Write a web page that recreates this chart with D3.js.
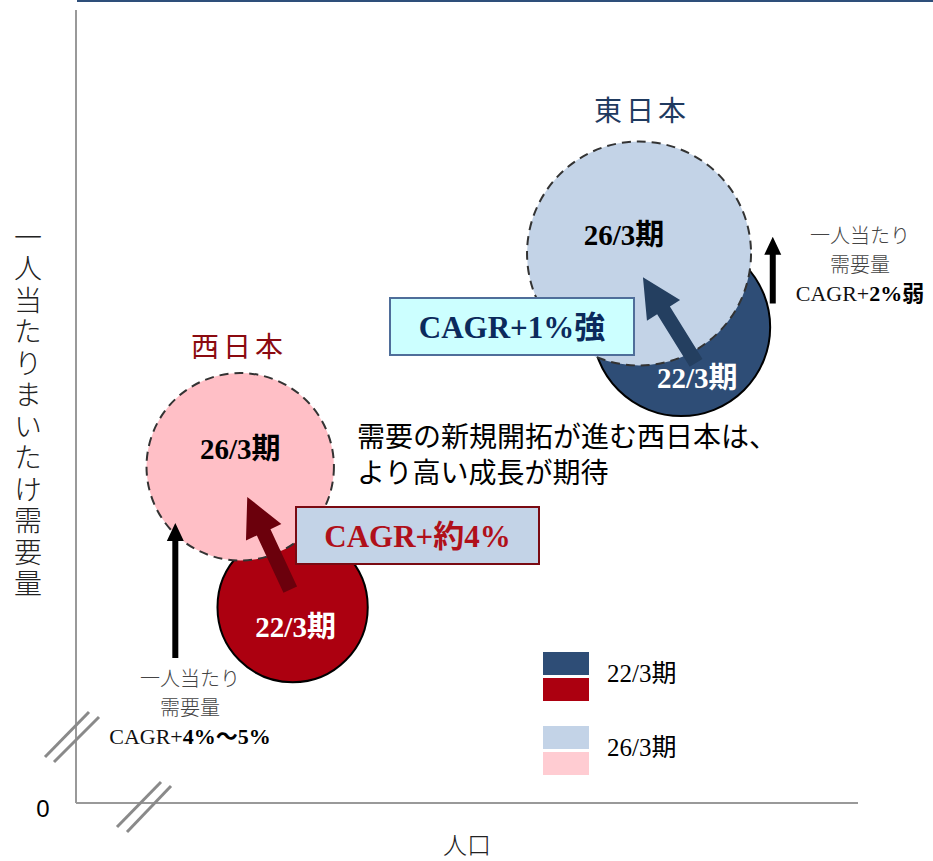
<!DOCTYPE html>
<html>
<head>
<meta charset="utf-8">
<script src="https://d3js.org/d3.v7.min.js"></script>
<style>
  body { margin: 0; background: #fff; }
  svg { display: block; }
</style>
</head>
<body>
<svg id="chart"></svg>
<script>
// --- data (x: 人口 index, y: 一人当たり需要量 index, size: 需要量 index) ---
var regions = ["西日本", "東日本"];
var periods = ["22/3期", "26/3期"];
var population = [[27.7, 21.0], [77.4, 72.0]];
var perCapita = [[24.7, 42.4], [60.0, 69.3]];
var volume = [[45, 70], [63, 100]];
var growthLabels = ["CAGR+約4%", "CAGR+1%強"];
// growth arrows (from 22/3 towards 26/3), in data units [x1, y1, x2, y2]
var growthArrows = [[27.4, 26.9, 21.9, 38.6], [79.3, 55.5, 72.5, 66.3]];
// per-capita arrows, in data units [x, yFrom, yTo]
var perCapitaArrows = [[12.7, 18.3, 35.3], [89.1, 63.0, 71.4]];
var perCapitaNotes = [
  ["一人当たり", "需要量", ["CAGR+", "4%〜5%"]],
  ["一人当たり", "需要量", ["CAGR+", "2%弱"]]
];

var W = 933, H = 861;
var jp = "'Noto Sans CJK JP', sans-serif";
var serif = "'Liberation Serif', 'Times New Roman', 'Noto Sans CJK JP', serif";

var svg = d3.select('#chart').attr('width', W).attr('height', H);

var x = d3.scaleLinear().domain([0, 100]).range([76, 858]);
var y = d3.scaleLinear().domain([0, 100]).range([803, 10]);
var r = d3.scaleSqrt().domain([0, 100]).range([0, 112]);

var darkFill = ["#AC0010", "#2E4D76"];
var lightFill = ["#FFBFC6", "#C3D3E7"];
var arrowFill = ["#6B000C", "#243F60"];
var regionColor = ["#8B0A10", "#1F3A5F"];

// top rule
svg.append('line').attr('x1', 77).attr('x2', W).attr('y1', 1).attr('y2', 1)
  .style('stroke', '#2E4F7A').style('stroke-width', 2);

// axes (plain lines, no ticks)
svg.append('line').attr('x1', x(0)).attr('x2', x(0)).attr('y1', y(100)).attr('y2', y(0))
  .style('stroke', '#999').style('stroke-width', 2);
svg.append('line').attr('x1', x(0)).attr('x2', x(100)).attr('y1', y(0)).attr('y2', y(0))
  .style('stroke', '#999').style('stroke-width', 2);

// axis break marks
var breaks = [[45, 757, 89, 712], [54, 762, 99, 717], [117, 827, 161, 782], [127, 832, 171, 786]];
svg.selectAll('line.brk').data(breaks).enter().append('line').attr('class', 'brk')
  .attr('x1', function (d) { return d[0]; }).attr('y1', function (d) { return d[1]; })
  .attr('x2', function (d) { return d[2]; }).attr('y2', function (d) { return d[3]; })
  .style('stroke', '#8a8a8a').style('stroke-width', 3);

svg.append('text').attr('x', 43).attr('y', 817).attr('text-anchor', 'middle')
  .style('font-family', "'Liberation Sans', Arial, sans-serif").style('font-size', '24px')
  .text('0');

// axis titles
svg.append('text').attr('x', 467).attr('y', 843).attr('text-anchor', 'middle')
  .attr('dominant-baseline', 'central')
  .style('font-family', jp).style('font-size', '24px').style('font-weight', 300).style('fill', '#222')
  .text('人口');

svg.append('text').attr('x', 28).attr('y', 223)
  .style('writing-mode', 'vertical-rl')
  .style('font-family', jp).style('font-size', '28px').style('font-weight', 300).style('fill', '#222')
  .style('letter-spacing', '3.5px')
  .text('一人当たりまいたけ需要量');

// bubbles: 22/3 first, 26/3 on top
var bubbles = [];
regions.forEach(function (reg, i) {
  periods.forEach(function (p, j) {
    bubbles.push({ region: i, period: j, x: population[i][j], y: perCapita[i][j], v: volume[i][j] });
  });
});
bubbles.sort(function (a, b) { return a.period - b.period; });

svg.selectAll('circle.bub').data(bubbles).enter().append('circle').attr('class', 'bub')
  .attr('cx', function (d) { return x(d.x); })
  .attr('cy', function (d) { return y(d.y); })
  .attr('r', function (d) { return r(d.v); })
  .style('fill', function (d) { return d.period ? lightFill[d.region] : darkFill[d.region]; })
  .style('stroke', function (d) { return d.period ? '#333' : '#000'; })
  .style('stroke-width', 2)
  .style('stroke-dasharray', function (d) { return d.period ? '9,6' : null; });

// arrow polygon
function arrowPath(x1, y1, x2, y2, sw, hw, hl) {
  var dx = x2 - x1, dy = y2 - y1, len = Math.sqrt(dx * dx + dy * dy);
  var ux = dx / len, uy = dy / len, nx = -uy, ny = ux;
  var bx = x2 - ux * hl, by = y2 - uy * hl;
  var pts = [
    [x1 + nx * sw / 2, y1 + ny * sw / 2],
    [bx + nx * sw / 2, by + ny * sw / 2],
    [bx + nx * hw / 2, by + ny * hw / 2],
    [x2, y2],
    [bx - nx * hw / 2, by - ny * hw / 2],
    [bx - nx * sw / 2, by - ny * sw / 2],
    [x1 - nx * sw / 2, y1 - ny * sw / 2]
  ];
  return 'M' + pts.join('L') + 'Z';
}

svg.selectAll('path.grow').data(growthArrows).enter().append('path').attr('class', 'grow')
  .attr('d', function (d) { return arrowPath(x(d[0]), y(d[1]), x(d[2]), y(d[3]), 15, 39, 39); })
  .style('fill', function (d, i) { return arrowFill[i]; });

svg.selectAll('path.pc').data(perCapitaArrows).enter().append('path').attr('class', 'pc')
  .attr('d', function (d) { return arrowPath(x(d[0]), y(d[1]), x(d[0]), y(d[2]), 6, 17, 18); })
  .style('fill', '#000');

// bubble labels
svg.selectAll('text.blab').data(bubbles).enter().append('text').attr('class', 'blab')
  .attr('x', function (d) { return x(d.x) + (d.period ? (d.region ? -15 : 0) : (d.region ? 16 : 3)); })
  .attr('y', function (d) { return y(d.y) + (d.period ? -8 : (d.region ? 61 : 30)); })
  .attr('text-anchor', 'middle')
  .style('font-family', serif).style('font-weight', 'bold').style('font-size', '29px')
  .style('fill', function (d) { return d.period ? '#000' : '#fff'; })
  .text(function (d) { return periods[d.period]; });

// region titles
var regionTitlePos = [[239, 357], [642, 121]];
svg.selectAll('text.reg').data(regions).enter().append('text').attr('class', 'reg')
  .attr('x', function (d, i) { return regionTitlePos[i][0]; })
  .attr('y', function (d, i) { return regionTitlePos[i][1]; })
  .attr('text-anchor', 'middle')
  .style('font-family', jp).style('font-size', '28px').style('letter-spacing', '4px')
  .style('fill', function (d, i) { return regionColor[i]; })
  .text(function (d) { return d; });

// CAGR boxes
var boxPos = [[296, 507, 243, 57], [390, 298, 244, 57]];
var boxFill = ['#C3D3E7', '#CCFFFF'];
var boxStroke = ['#7A0A12', '#4F6E9A'];
var boxText = ['#B0101A', '#0B2A5C'];
var boxes = svg.selectAll('g.box').data(growthLabels).enter().append('g').attr('class', 'box');
boxes.append('rect')
  .attr('x', function (d, i) { return boxPos[i][0]; })
  .attr('y', function (d, i) { return boxPos[i][1]; })
  .attr('width', function (d, i) { return boxPos[i][2]; })
  .attr('height', function (d, i) { return boxPos[i][3]; })
  .style('fill', function (d, i) { return boxFill[i]; })
  .style('stroke', function (d, i) { return boxStroke[i]; })
  .style('stroke-width', 2);
boxes.append('text')
  .attr('x', function (d, i) { return boxPos[i][0] + boxPos[i][2] / 2; })
  .attr('y', function (d, i) { return boxPos[i][1] + boxPos[i][3] / 2 + 11; })
  .attr('text-anchor', 'middle')
  .style('font-family', serif).style('font-weight', 'bold').style('font-size', '31px')
  .style('fill', function (d, i) { return boxText[i]; })
  .text(function (d) { return d; });

// comment
var comment = ['需要の新規開拓が進む西日本は、', 'より高い成長が期待'];
svg.selectAll('text.cmt').data(comment).enter().append('text').attr('class', 'cmt')
  .attr('x', 357).attr('y', function (d, i) { return 447 + i * 36; })
  .style('font-family', jp).style('font-size', '28px').style('fill', '#000')
  .text(function (d) { return d; });

// per-capita notes
var notePos = [[190, 678], [860, 235]];
perCapitaNotes.forEach(function (lines, i) {
  var g = svg.append('g');
  [lines[0], lines[1]].forEach(function (t, k) {
    g.append('text').attr('x', notePos[i][0]).attr('y', notePos[i][1] + 8 + k * 29)
      .attr('text-anchor', 'middle')
      .style('font-family', jp).style('font-size', '20px').style('font-weight', 300).style('fill', '#444')
      .text(t);
  });
  var t3 = g.append('text').attr('x', notePos[i][0]).attr('y', notePos[i][1] + 8 + 58)
    .attr('text-anchor', 'middle')
    .style('font-family', serif).style('font-size', '22px').style('fill', '#111');
  t3.append('tspan').text(lines[2][0]);
  t3.append('tspan').style('font-weight', 'bold').style('fill', '#000').text(lines[2][1]);
});

// legend
var legY = [652, 726];
var leg = svg.selectAll('g.leg').data(periods).enter().append('g').attr('class', 'leg');
leg.append('rect').attr('x', 543).attr('y', function (d, i) { return legY[i]; })
  .attr('width', 46).attr('height', 23)
  .style('fill', function (d, i) { return i ? lightFill[1] : darkFill[1]; });
leg.append('rect').attr('x', 543).attr('y', function (d, i) { return legY[i] + 26; })
  .attr('width', 46).attr('height', 23)
  .style('fill', function (d, i) { return i ? '#FFCCD2' : darkFill[0]; });
leg.append('text').attr('x', 607).attr('y', function (d, i) { return legY[i] + 30; })
  .style('font-family', serif).style('font-size', '25px').style('fill', '#000')
  .text(function (d) { return d; });
</script>
</body>
</html>
